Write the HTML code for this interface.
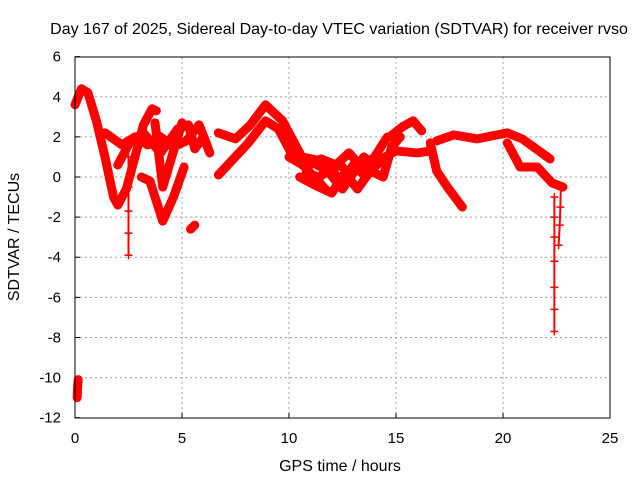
<!DOCTYPE html>
<html><head><meta charset="utf-8"><style>
body{margin:0;background:#fff}
svg{display:block;font-family:"Liberation Sans",sans-serif}
</style></head><body>
<svg id="chart" width="640" height="480" xmlns="http://www.w3.org/2000/svg">
<rect width="640" height="480" fill="#fff"/>
<text x="339" y="34" font-size="16" text-anchor="middle">Day 167 of 2025, Sidereal Day-to-day VTEC variation (SDTVAR) for receiver rvso</text>
<g id="grid"></g>
<g id="ticks"></g>
<g id="series"></g>
<rect x="75" y="57" width="535" height="361" fill="none" stroke="#000" stroke-width="1"/>
<text x="340" y="471" font-size="16" text-anchor="middle">GPS time / hours</text>
<text transform="translate(19,237) rotate(-90)" font-size="16" text-anchor="middle">SDTVAR / TECUs</text>
</svg>
<script>
const xTicks=[0,5,10,15,20,25];
const yTicks=[6,4,2,0,-2,-4,-6,-8,-10,-12];
const tracksT=[
[0,0.3,0.6,1.0,1.4,1.8,2.0,2.4,2.8,3.2,3.6,3.8],
[1.4,2.2,2.8,3.4,4.0,4.6,5.2,5.8,6.2],
[2.0,2.6,3.2,4.0,4.8,5.3,5.6,6.0,6.3],
[3.1,3.5,4.1,4.6,5.1],
[3.74,4.1,5.0],
[6.7,7.5,8.2,8.9,9.7,10.6,11.5,12.5],
[6.7,8.1,8.9,9.5,10.1,11.0,11.7],
[10.2,11,11.8,12.5,13,13.5,14,14.5,15,16,16.6],
[10.5,11.2,12,12.6,13.2,13.8,14.4,14.8,15.2],
[10,10.8,11.5,12.2,12.8,13.4,14,14.6],
[10.8,11.4,12.0,12.4,13.0,13.6,14.2],
[14.7,15.3,15.8,16.2],
[16.6,16.9,17.4,18.1],
[16.9,17.7,18.8,20.2,20.9,22.2],
[20.2,20.8,21.6,22.3,22.8],
[22.4,22.4,22.4,22.4,22.4,22.4,22.4],
[22.7,22.68,22.65,22.6],
[0.1,0.12,0.15],
[2.5,2.5,2.5,2.5,2.5],
[5.4,5.6]
];
const tracksV=[
[3.6,4.4,4.2,2.8,1.0,-1.0,-1.4,-0.6,1.0,2.6,3.4,3.3],
[2.2,1.6,2.0,1.6,2.0,1.5,1.8,2.6,1.5],
[0.6,1.8,2.2,1.2,2.4,2.6,1.4,2.0,1.2],
[0,-0.2,-2.2,-1.0,0.5],
[2.7,-0.5,2.7],
[2.2,1.9,2.6,3.6,2.8,1.0,0.8,0.5],
[0.1,1.7,2.8,2.4,1.2,0.2,-0.6],
[1.0,0.8,0.3,-0.6,0.2,1.0,0.5,1.0,1.3,1.2,1.3],
[0,-0.4,-0.8,0.2,-0.6,0.3,0,1.5,2.0],
[1.0,0.5,0.9,0.6,1.2,0.5,1.0,2.0],
[0.2,0.0,0.4,-0.3,0.6,0.0,0.8],
[2.0,2.5,2.8,2.3],
[1.7,0.3,-0.5,-1.5],
[1.8,2.1,1.9,2.2,1.9,0.9],
[1.7,0.5,0.5,-0.3,-0.5],
[-1.0,-2.0,-3.0,-4.2,-5.5,-6.6,-7.7],
[-0.6,-1.5,-2.4,-3.4],
[-11,-10.5,-10.1],
[1.0,-0.5,-1.7,-2.8,-3.9],
[-2.6,-2.4]
];
const NS="http://www.w3.org/2000/svg";
const X=t=>75+t*21.4;
const Y=v=>177-v*20.06;
const grid=document.getElementById('grid'),ticks=document.getElementById('ticks'),ser=document.getElementById('series');
function mk(tag,attrs,parent){const e=document.createElementNS(NS,tag);for(const k in attrs)e.setAttribute(k,attrs[k]);parent.appendChild(e);return e;}
xTicks.forEach(t=>{
 if(t>0&&t<25){const l=mk('line',{x1:X(t),x2:X(t),y1:57,y2:418,stroke:'#a0a0a0','stroke-dasharray':'2,3'},grid);
 
 }
 mk('line',{x1:X(t),x2:X(t),y1:418,y2:413,stroke:'#000'},ticks);
 const tx=mk('text',{x:X(t),y:443,'font-size':15,'text-anchor':'middle'},ticks);tx.textContent=t;
 
 
});
yTicks.forEach(v=>{
 if(v<6&&v>-12){const l=mk('line',{x1:75,x2:610,y1:Y(v),y2:Y(v),stroke:'#a0a0a0','stroke-dasharray':'2,3'},grid);
 
 }
 mk('line',{x1:75,x2:80,y1:Y(v),y2:Y(v),stroke:'#000'},ticks);
 const tx=mk('text',{x:61,y:Y(v)+5,'font-size':15,'text-anchor':'end'},ticks);tx.textContent=v;
 
 
});
tracksT.forEach((ts,i)=>{
 const vs=tracksV[i];
 const pts=ts.map((t,j)=>X(t)+','+Y(vs[j])).join(' ');
 const steep=Math.abs(vs[vs.length-1]-vs[0])>2.5&&Math.abs(ts[ts.length-1]-ts[0])<0.5;
 const pl=mk('polyline',{points:pts,fill:'none',stroke:'#f00','stroke-width':steep?2:9,'stroke-linejoin':'round','stroke-linecap':'round'},ser);
 
 
 ts.forEach((t,j)=>{
  const p=mk('path',{d:`M${X(t)-4},${Y(vs[j])}h8M${X(t)},${Y(vs[j])-4}v8`,stroke:'#f00','stroke-width':1.5},ser);
  
  
 });
});
</script>
</body></html>
